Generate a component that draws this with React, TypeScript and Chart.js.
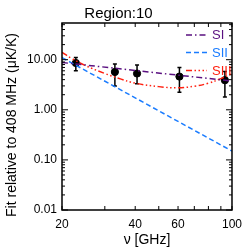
import React, { useEffect, useRef } from "react";
import { Chart, registerables } from "chart.js";

Chart.register(...registerables);

const TITLE = "Region:10";
const X_TITLE = "ν [GHz]";
const Y_TITLE = "Fit relative to 408 MHz (μK/K)";

const xMajorTicks = [20, 40, 60, 100];
const xMinorTicks = [30, 50, 70, 80, 90];
const yMajorTicks = [0.01, 0.1, 1, 10];

const X_MIN = 20;
const X_MAX = 100;
const Y_MIN = 0.01;
const Y_MAX = 54;

// measured points
const freqs = [22.8, 33.0, 40.7, 60.8, 93.5];
const values = [8.6, 5.7, 5.3, 4.6, 3.9];
const errLow = [6.0, 3.0, 3.3, 2.25, 1.8];
const errHigh = [11.1, 8.2, 7.8, 7.0, 5.8];

// fits
const siFreqs = [20, 100];
const siValues = [8.8, 3.75];
const siiFreqs = [20, 100];
const siiValues = [11.0, 0.15];
const siiiFreqs = [20, 22, 25, 30, 35, 40, 50, 60, 70, 80, 90, 100];
const siiiValues = [14.0, 10.5, 7.6, 5.3, 4.1, 3.4, 2.9, 2.75, 2.95, 3.4, 4.2, 5.3];

const seriesLabels = ["SI", "SII", "SIII"];
const PURPLE = "#5a1080";
const BLUE = "#1a7cff";
const RED = "#ff2010";

const FONT = "'Liberation Sans', Arial, sans-serif";

const pts = (xs: number[], ys: number[]) => xs.map((x, i) => ({ x, y: ys[i] }));

const overlay = {
  id: "overlay",
  beforeDatasetsDraw(chart: any) {
    const ctx = chart.ctx;
    const xs = chart.scales.x;
    const ys = chart.scales.y;
    ctx.save();
    ctx.strokeStyle = "#000";
    ctx.lineWidth = 1.5;
    freqs.forEach((f, i) => {
      const x = xs.getPixelForValue(f);
      const y1 = ys.getPixelForValue(errLow[i]);
      const y2 = ys.getPixelForValue(errHigh[i]);
      ctx.beginPath();
      ctx.moveTo(x, y1);
      ctx.lineTo(x, y2);
      ctx.moveTo(x - 2, y1);
      ctx.lineTo(x + 2, y1);
      ctx.moveTo(x - 2, y2);
      ctx.lineTo(x + 2, y2);
      ctx.stroke();
    });
    ctx.restore();
  },
  afterDatasetsDraw(chart: any) {
    const ctx = chart.ctx;
    const { left, right, top, bottom } = chart.chartArea;
    const xs = chart.scales.x;
    const ys = chart.scales.y;
    ctx.save();
    ctx.strokeStyle = "#000";
    ctx.lineWidth = 1.5;
    ctx.strokeRect(left, top, right - left, bottom - top);
    ctx.lineWidth = 1;
    ctx.beginPath();
    [...xMajorTicks, ...xMinorTicks].forEach((v) => {
      const x = xs.getPixelForValue(v);
      ctx.moveTo(x, bottom);
      ctx.lineTo(x, bottom - 4);
      ctx.moveTo(x, top);
      ctx.lineTo(x, top + 4);
    });
    for (let d = -2; d <= 1; d++) {
      for (let m = 1; m <= 9; m++) {
        const v = m * Math.pow(10, d);
        if (v < Y_MIN || v > Y_MAX) continue;
        const y = ys.getPixelForValue(v);
        const len = m === 1 ? 6 : 3;
        ctx.moveTo(left, y);
        ctx.lineTo(left + len, y);
        ctx.moveTo(right, y);
        ctx.lineTo(right - len, y);
      }
    }
    ctx.stroke();

    // legend
    const ds = chart.data.datasets;
    const rowsY = [35, 52.5, 70.5];
    for (let i = 0; i < 3; i++) {
      const d = ds[i];
      ctx.strokeStyle = d.borderColor;
      ctx.lineWidth = 1.5;
      ctx.setLineDash(d.borderDash || []);
      ctx.beginPath();
      ctx.moveTo(186, rowsY[i]);
      ctx.lineTo(207, rowsY[i]);
      ctx.stroke();
      ctx.setLineDash([]);
      ctx.fillStyle = d.borderColor;
      ctx.font = `13px ${FONT}`;
      ctx.textAlign = "left";
      ctx.textBaseline = "middle";
      ctx.fillText(d.label, 212, rowsY[i] + 0.5);
    }

    // y title
    ctx.fillStyle = "#000";
    ctx.font = `14px ${FONT}`;
    ctx.translate(12, 125);
    ctx.rotate(-Math.PI / 2);
    ctx.textAlign = "center";
    ctx.textBaseline = "middle";
    ctx.fillText(Y_TITLE, 0, 0);
    ctx.restore();
  },
};

export default function App() {
  const ref = useRef<HTMLCanvasElement>(null);
  useEffect(() => {
    document.body.style.margin = "0";
    const canvas = ref.current!;
    const chart = new Chart(canvas, {
      type: "scatter",
      data: {
        datasets: [
          {
            label: seriesLabels[0],
            data: pts(siFreqs, siValues),
            showLine: true,
            borderColor: PURPLE,
            borderWidth: 1.5,
            borderDash: [6, 3, 1.5, 3],
            pointRadius: 0,
            fill: false,
          },
          {
            label: seriesLabels[1],
            data: pts(siiFreqs, siiValues),
            showLine: true,
            borderColor: BLUE,
            borderWidth: 1.5,
            borderDash: [5, 3],
            pointRadius: 0,
            fill: false,
          },
          {
            label: seriesLabels[2],
            data: pts(siiiFreqs, siiiValues),
            showLine: true,
            borderColor: RED,
            borderWidth: 1.5,
            borderDash: [6, 2.5, 1.5, 2.5, 1.5, 2.5, 1.5, 2.5],
            tension: 0.4,
            pointRadius: 0,
            fill: false,
          },
          {
            label: "data",
            data: pts(freqs, values),
            showLine: false,
            pointRadius: 3.6,
            pointBackgroundColor: "#000",
            pointBorderColor: "#000",
            borderColor: "#000",
            backgroundColor: "#000",
          },
        ],
      } as any,
      options: {
        animation: false,
        responsive: false,
        maintainAspectRatio: false,
        events: [],
        layout: { padding: { top: 0, right: 12, bottom: 0, left: 0 } },
        plugins: {
          legend: { display: false },
          tooltip: { enabled: false },
          title: {
            display: true,
            text: TITLE,
            color: "#000",
            font: { family: FONT, size: 15, weight: "normal" },
            padding: { top: 5, bottom: 0 },
          },
        },
        scales: {
          x: {
            type: "logarithmic",
            min: X_MIN,
            max: X_MAX,
            grid: { display: false, drawTicks: false },
            border: { display: false },
            afterBuildTicks: (s: any) => {
              s.ticks = xMajorTicks.map((v) => ({ value: v }));
            },
            ticks: {
              autoSkip: false,
              maxRotation: 0,
              padding: 7,
              color: "#000",
              font: { family: FONT, size: 12 },
              callback: (v: any) => String(v),
            },
            title: {
              display: true,
              text: X_TITLE,
              color: "#000",
              font: { family: FONT, size: 14 },
              padding: { top: 0, bottom: 0 },
            },
            afterFit: (s: any) => {
              s.height = 39;
            },
          },
          y: {
            type: "logarithmic",
            min: Y_MIN,
            max: Y_MAX,
            grid: { display: false, drawTicks: false },
            border: { display: false },
            afterBuildTicks: (s: any) => {
              s.ticks = yMajorTicks.map((v) => ({ value: v }));
            },
            ticks: {
              autoSkip: false,
              padding: 5,
              color: "#000",
              font: { family: FONT, size: 12 },
              callback: (v: any) => Number(v).toFixed(2),
            },
            afterFit: (s: any) => {
              s.width = 62;
            },
          },
        },
      } as any,
      plugins: [overlay],
    });
    return () => chart.destroy();
  }, []);
  return <canvas ref={ref} width={249} height={249} style={{ display: "block" }} />;
}
